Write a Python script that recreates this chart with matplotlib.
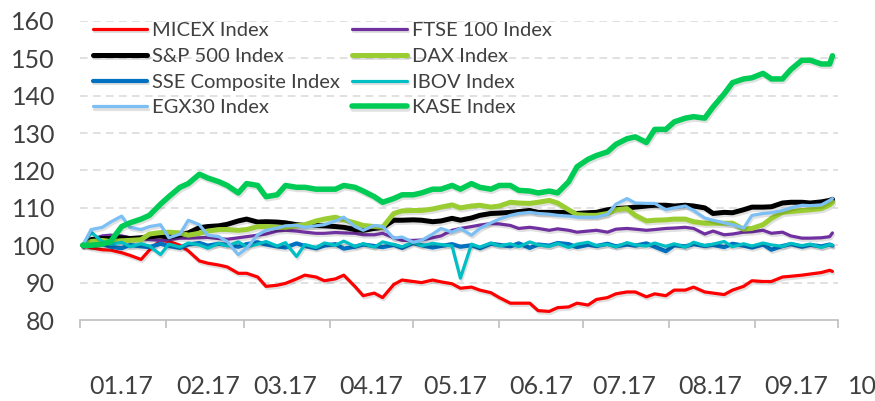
import matplotlib
matplotlib.use("Agg")
import matplotlib.pyplot as plt
import matplotlib.patheffects as pe
import matplotlib.transforms as mtransforms
import numpy as np
import pandas as pd

plt.rcParams["font.family"] = ["Lato", "DejaVu Sans"]

# twice-weekly observation dates (Mon/Thu) plus the last trading day
mondays = pd.date_range("2017-01-02", "2017-09-25", freq="W-MON")
obs = []
for d in mondays:
    obs += [d, d + pd.Timedelta(days=3)]
dates = pd.DatetimeIndex(obs + [pd.Timestamp("2017-09-29")])

micex = [
    100, 99.3, 98.8, 98.7, 98, 97.3, 96.2, 98.7, 101.3, 101,
    100, 98.5, 95.8, 95.2, 94.7, 94.2, 92.5, 92.5, 91.5, 89,
    89.3, 89.8, 91, 92, 91.5, 90.5, 91, 92, 89, 86.5,
    87.2, 86, 89.5, 90.7, 90.3, 90, 90.7, 90.2, 89.7, 88.5,
    88.8, 88, 87.3, 86, 84.5, 84.5, 84.5, 82.5, 82.3, 83.3,
    83.5, 84.5, 84, 85.5, 86, 87, 87.5, 87.5, 86.2, 87,
    86.5, 88, 88, 88.8, 87.5, 87.2, 86.8, 88, 89, 90.5,
    90.3, 90.3, 91.5, 91.7, 92, 92.3, 92.7, 93.3,
    93,
]
ftse = [
    100, 101.5, 102.5, 102.7, 102.5, 102, 101.8, 101.5, 101.3, 101.5,
    101.9, 101.9, 102, 102.1, 101.8, 101.6, 102, 102.3, 102.7, 103,
    103.8, 104, 103.8, 103.5, 103.2, 103.2, 103.4, 103.3, 103.2, 102.8,
    102.8, 103.2, 102, 101.3, 101.3, 101.4, 102, 102.5, 104, 104.5,
    105, 105.4, 105.8, 105.7, 105.3, 104.5, 104.8, 104.5, 104, 104.4,
    104, 103.5, 103.8, 104, 103.5, 104.3, 104.5, 104.3, 104, 104.2,
    104.5, 104.6, 104.8, 104.5, 103, 103.8, 102.8, 103, 103.5, 103.6,
    104, 103.2, 103.5, 102.5, 101.9, 101.9, 102, 102.3,
    103.3,
]
sp500 = [
    100, 101.5, 101.8, 101.8, 102, 101.8, 102, 102.3, 102.5, 102.2,
    102.8, 103.3, 104.7, 105, 105.2, 105.6, 106.5, 107, 106.2, 106.3,
    106.2, 106, 105.5, 105.3, 105.3, 105.2, 105, 104.8, 104.2, 104,
    104.5, 104.8, 106.7, 106.7, 106.8, 106.7, 106.3, 106.5, 107.2, 106.7,
    107.3, 108, 108.5, 108.6, 108.8, 109, 109.3, 108.8, 108.8, 108.8,
    108.7, 108.5, 108.7, 108.8, 109.5, 109.8, 110, 110.2, 110.5, 110.7,
    110.7, 110.5, 110.7, 110.5, 110, 108.5, 108.8, 108.7, 109.5, 110.2,
    110.2, 110.3, 111.3, 111.5, 111.5, 111.3, 111.6, 112,
    112.3,
]
dax = [
    100, 101, 101.3, 101, 101.2, 101.3, 101.5, 103, 103.4, 103.5,
    103.3, 102.7, 103.2, 103.8, 104.2, 104.2, 104, 104.2, 105, 105,
    104.8, 104.8, 105.2, 105.5, 106.5, 107, 107.5, 106.8, 106, 105.3,
    105, 104.8, 108.5, 109.2, 109.3, 109.3, 109.7, 110.2, 110.8, 110,
    110.5, 110.7, 110.2, 110.5, 111.5, 111.3, 111.2, 111.5, 112, 111.3,
    109.5, 108.2, 108, 108, 108.5, 109.5, 109.8, 108, 106.5, 106.7,
    106.8, 107, 107, 106.3, 105.9, 105.9, 105.9, 105.9, 104.3, 104.5,
    105.5, 107.2, 108.8, 109, 109.3, 109.5, 109.8, 110.8,
    111.5,
]
sse = [
    100, 99.8, 100.3, 99.6, 99.2, 100.1, 99.7, 99.5, 100.4, 99.8,
    99.3, 100.2, 100.6, 99.9, 100.4, 100.1, 99.6, 100.3, 100.8, 100.2,
    99.7, 99.4, 100.5, 99.8, 99.2, 99.9, 100.3, 99.1, 99.6, 100.2,
    99.8, 99.5, 100.1, 99.3, 100.6, 100, 99.4, 99.8, 100.3, 99.6,
    100, 99.2, 100.4, 100.1, 99.7, 100.5, 99.3, 100.2, 99.9, 100.6,
    100.3, 99.5, 100.1, 99.8, 100.4, 99.7, 100.2, 99.9, 100.5, 99.6,
    98.4, 100, 99.7, 100.3, 99.8, 100.1, 99.5, 100.4, 99.9, 99.4,
    100.2, 98.8, 99.8, 100.3, 99.6, 100.1, 99.7, 100.2,
    99.9,
]
ibov = [
    100, 103.5, 101, 100.2, 100.8, 99.6, 100.4, 99.8, 97.5, 100.3,
    99.5, 100.6, 100.1, 99.2, 100.5, 99.8, 100.9, 99.6, 100.3, 101,
    99.8, 100.7, 97, 100.2, 99.4, 100.6, 100, 101.1, 99.7, 100.4,
    99.5, 100.9, 100.2, 99.6, 100.8, 99.9, 100.5, 100.2, 99.8, 91.2,
    100.3, 99.5, 100.6, 99.8, 100.4, 99.6, 100.9, 100.1, 99.7, 100.5,
    99.4, 100.3, 100.8, 99.9, 100.2, 99.6, 100.7, 100.1, 99.8, 100.6,
    99.7, 100.4, 99.5, 100.8, 99.9, 100.3, 101, 99.6, 100.4, 99.8,
    100.6, 100.1, 99.7, 100.5, 99.9, 100.3, 99.4, 100.2,
    100,
]
egx30 = [
    100, 104.2, 104.8, 106.2, 107.8, 104.8, 104.2, 105, 105.5, 102,
    103, 106.7, 105.5, 102.7, 102.3, 101, 97.5, 99.2, 102.8, 104,
    104.6, 105.2, 105.3, 104.8, 105.2, 105.5, 106.5, 107.5, 105, 104,
    105.3, 105, 101.9, 102.2, 100.8, 101.3, 103, 104.5, 103.5, 104.5,
    102.7, 104.5, 106, 107, 108, 108.5, 108.8, 108.5, 108.3, 108,
    107.8, 107.5, 107.5, 107.5, 108.3, 111, 112.5, 111.3, 111.2, 111.2,
    109.5, 110, 110.5, 109.3, 107.3, 106.7, 106, 105.5, 104.6, 108,
    108.5, 108.7, 109.3, 110, 110.7, 110.6, 110.8, 112,
    112.5,
]
kase = [
    100, 100, 100.3, 101, 105, 106, 107, 108, 111, 113,
    115.5, 116.5, 119, 118, 117, 116, 114, 116.5, 116, 113,
    113.5, 116, 115.5, 115.5, 115, 115, 115, 116, 115.5, 114.5,
    113, 111.5, 112.5, 113.5, 113.5, 114, 115, 115, 116, 115,
    116.5, 115.5, 115, 116, 116, 114.7, 114.5, 114, 114.5, 114,
    117, 121, 123, 124, 125, 127, 128.5, 129, 127.5, 131,
    131, 133, 134, 134.4, 134, 137, 140.5, 143.5, 144.5, 144.8,
    146, 144.5, 144.5, 147, 149.5, 149.5, 148.5, 148.5,
    150.7,
]

# (label, values, colour, width in px) in drawing order
series = [
    ("MICEX Index", micex, "#FF0000", 3.2),
    ("FTSE 100 Index", ftse, "#7030A0", 3.2),
    ("S&P 500 Index", sp500, "#000000", 5.0),
    ("DAX Index", dax, "#9ACD32", 5.0),
    ("SSE Composite Index", sse, "#0070C0", 4.2),
    ("IBOV Index", ibov, "#00BFC4", 3.2),
    ("EGX30 Index", egx30, "#7CBFF5", 3.2),
    ("KASE Index", kase, "#00CC55", 5.5),
]
legend_order = ["MICEX Index", "S&P 500 Index", "SSE Composite Index", "EGX30 Index",
                "FTSE 100 Index", "DAX Index", "IBOV Index", "KASE Index"]
month_labels = ["01.17", "02.17", "03.17", "04.17", "05.17",
                "06.17", "07.17", "08.17", "09.17", "10.17"]
TXT = "#404040"

fig = plt.figure(figsize=(8.75, 4.01), dpi=100)
W, H = 875, 401
ax = fig.add_axes([80 / W, (H - 320) / H, (838 - 80) / W, (320 - 21) / H])

handles = {}
for name, vals, col, px in series:
    assert len(vals) == len(dates), name
    (ln,) = ax.plot(dates, vals, color=col, lw=px * 0.72, solid_capstyle="round",
                    solid_joinstyle="round",
                    path_effects=[pe.SimpleLineShadow(offset=(0.8, -1.6), alpha=0.12,
                                                      shadow_color="black"), pe.Normal()])
    handles[name] = ln

ax.set_ylim(80, 160)
ax.set_yticks(np.arange(80, 161, 10))
ax.set_xlim(pd.Timestamp("2017-01-01"), pd.Timestamp("2017-10-01"))
month_starts = pd.date_range("2017-01-01", "2017-10-01", freq="MS")
ax.set_xticks(month_starts)
ax.set_xticklabels([])

for s in ["top", "right", "left"]:
    ax.spines[s].set_visible(False)
ax.spines["bottom"].set_color("#BFBFBF")
ax.spines["bottom"].set_linewidth(1.2)
ax.tick_params(axis="x", direction="out", length=6, width=1.2, color="#BFBFBF")
ax.tick_params(axis="y", length=0, pad=18, labelsize=18, labelcolor=TXT)

for v in range(90, 161, 10):
    ax.axhline(v, color="#D9D9D9", lw=1.1, dashes=(5, 3.5), zorder=0)

# month labels sit mid-month, well below the axis
trans = mtransforms.blended_transform_factory(ax.transData, ax.transAxes)
for m, lab in zip(month_starts, month_labels):
    mid = m + pd.Timedelta(days=15)
    ax.text(mid, -0.222, lab, transform=trans, ha="center", va="center",
            fontsize=18, color=TXT, clip_on=False)

leg = ax.legend([handles[n] for n in legend_order], legend_order, ncol=2,
                loc="upper left", bbox_to_anchor=(93 / W, 1 - 22 / H),
                bbox_transform=fig.transFigure, frameon=False, fontsize=14.5,
                handlelength=2.7, handletextpad=0.25, labelspacing=0.43,
                columnspacing=0.6, borderaxespad=0, borderpad=0)
for t in leg.get_texts():
    t.set_color(TXT)

fig.savefig("out.png", dpi=100)
